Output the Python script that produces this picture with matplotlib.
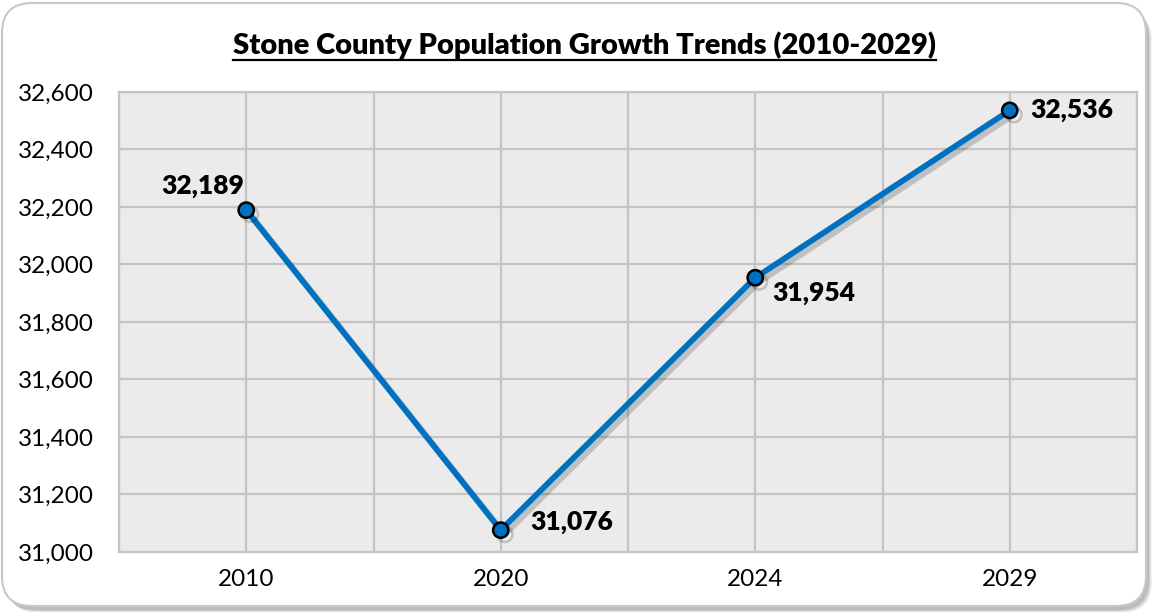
"""Stone County population line chart, rendered to out.png."""

import matplotlib
matplotlib.use("Agg")
import matplotlib.pyplot as plt
import matplotlib.patheffects as pe
from matplotlib.patches import FancyBboxPatch
from matplotlib.ticker import FuncFormatter, MultipleLocator

plt.rcParams["font.family"] = ["Lato", "DejaVu Sans"]

# Data
years = ["2010", "2020", "2024", "2029"]
population = [32189, 31076, 31954, 32536]
y_ticks = [31000, 31200, 31400, 31600, 31800, 32000, 32200, 32400, 32600]
title = "Stone County Population Growth Trends (2010-2029)"

# Label offsets in pixels (dx, dy, ha, va) per point
label_offsets = [(-2, 12, "right", "bottom"),
                 (30, 8, "left", "center"),
                 (17, -15, "left", "center"),
                 (21, 0, "left", "center")]

W, H, DPI = 1155, 612, 100
BLUE = "#0070C0"

fig = plt.figure(figsize=(W / DPI, H / DPI), dpi=DPI)
fig.patch.set_facecolor("white")

# Background layer in pixel units for the rounded chart frame
bg = fig.add_axes([0, 0, 1, 1], zorder=-10)
bg.set_xlim(0, W)
bg.set_ylim(0, H)
bg.set_axis_off()
for i, a in enumerate([0.10, 0.14, 0.18, 0.24]):
    off = 5 - i
    bg.add_patch(FancyBboxPatch((3 + off, 4 - off), W - 11, H - 10,
                                boxstyle="round,pad=0,rounding_size=30",
                                facecolor="#808080", edgecolor="none", alpha=a))
bg.add_patch(FancyBboxPatch((2, 6), W - 11, H - 9,
                            boxstyle="round,pad=0,rounding_size=30",
                            facecolor="white", edgecolor="#C8C8C8", linewidth=1.5))

# Plot area
ax = fig.add_axes([119 / W, 1 - 552 / H, (1137 - 119) / W, (552 - 92) / H])
ax.set_facecolor("#EBEBEB")
x = list(range(len(years)))
ax.set_xlim(-0.5, len(years) - 0.5)
ax.set_ylim(y_ticks[0], y_ticks[-1])
ax.set_xticks(x)
ax.set_xticklabels(years)
ax.xaxis.set_minor_locator(MultipleLocator(0.5))
ax.set_yticks(y_ticks)
ax.yaxis.set_major_formatter(FuncFormatter(lambda v, p: f"{int(v):,}"))
ax.grid(True, which="both", color="#C4C4C4", linewidth=1.6)
ax.set_axisbelow(True)
ax.tick_params(axis="both", which="both", length=0, labelsize=17.5, colors="black")
ax.tick_params(axis="y", pad=18)
ax.tick_params(axis="x", pad=12)
for s in ax.spines.values():
    s.set_color("#C4C4C4")
    s.set_linewidth(1.6)

line, = ax.plot(x, population, color=BLUE, linewidth=4.2, marker="o",
                markersize=11, markerfacecolor=BLUE, markeredgecolor="black",
                markeredgewidth=1.8, solid_capstyle="round", zorder=3)
line.set_path_effects([
    pe.SimpleLineShadow(offset=(3, -3), shadow_color="black", alpha=0.18),
    pe.Normal(),
])

for xi, val, (dx, dy, ha, va) in zip(x, population, label_offsets):
    ax.annotate(f"{val:,}", (xi, val), xytext=(dx, dy), textcoords="offset pixels",
                ha=ha, va=va, fontsize=19, fontweight="heavy", color="black", zorder=4)

# Underlined title
t = fig.text(0.506, 1 - 45 / H, title, ha="center", va="center",
             fontsize=21, fontweight="heavy", color="black")
fig.canvas.draw()
bb = t.get_window_extent()
uy = bb.y0 - 1
fig.add_artist(plt.Line2D([bb.x0 / W, bb.x1 / W], [uy / H, uy / H],
                          color="black", linewidth=1.6, transform=fig.transFigure))

fig.savefig("out.png", dpi=DPI)
